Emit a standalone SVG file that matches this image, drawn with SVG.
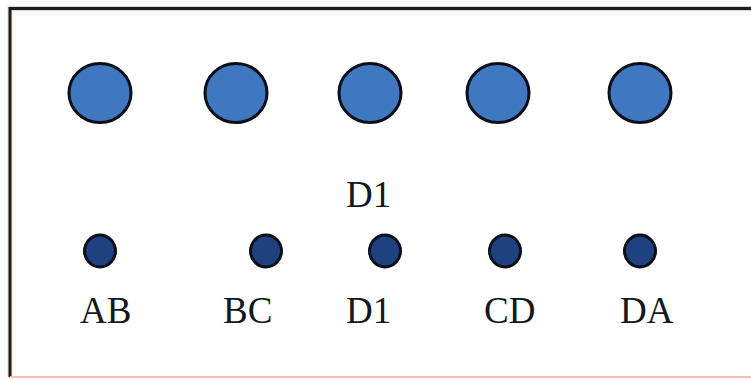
<svg xmlns="http://www.w3.org/2000/svg" width="751" height="379" viewBox="0 0 751 379">
<style>
.big{fill:#3f77c0;stroke:#0a0f18;stroke-width:3}
.small{fill:#1e4280;stroke:#0a0f18;stroke-width:3}
.lbl{font-family:"Liberation Serif","Times New Roman",serif;font-size:37px;fill:#111820}
</style>
<rect x="0" y="0" width="751" height="379" fill="#ffffff"/>
<g id="frame">
<path d="M10,377 L10,8.5 L751,8.5" fill="none" stroke="#fbd3c2" stroke-width="5"/>
<path d="M10,377 L10,8.5 L751,8.5" fill="none" stroke="#152028" stroke-width="3"/>
<line x1="10" y1="377" x2="751" y2="377" stroke="#f6c0a8" stroke-width="2"/>
</g>
<g id="big-1"><ellipse class="big" cx="100" cy="93" rx="31" ry="29.5"/></g>
<g id="big-2"><ellipse class="big" cx="236" cy="93" rx="31" ry="29.5"/></g>
<g id="big-3"><ellipse class="big" cx="370" cy="93" rx="31" ry="29.5"/></g>
<g id="big-4"><ellipse class="big" cx="498" cy="93" rx="31" ry="29.5"/></g>
<g id="big-5"><ellipse class="big" cx="640" cy="93" rx="31" ry="29.5"/></g>
<g id="label-top"><text class="lbl" x="346" y="207">D1</text></g>
<g id="node-AB"><ellipse class="small" cx="100" cy="251" rx="15.5" ry="16"/><text class="lbl" x="80" y="323">AB</text></g>
<g id="node-BC"><ellipse class="small" cx="266" cy="251" rx="15.5" ry="16"/><text class="lbl" x="223" y="323">BC</text></g>
<g id="node-D1"><ellipse class="small" cx="385" cy="251" rx="15.5" ry="16"/><text class="lbl" x="346" y="323">D1</text></g>
<g id="node-CD"><ellipse class="small" cx="505" cy="251" rx="15.5" ry="16"/><text class="lbl" x="484" y="323">CD</text></g>
<g id="node-DA"><ellipse class="small" cx="640" cy="251" rx="15.5" ry="16"/><text class="lbl" x="620" y="323">DA</text></g>
<g id="connectors"></g>
</svg>
